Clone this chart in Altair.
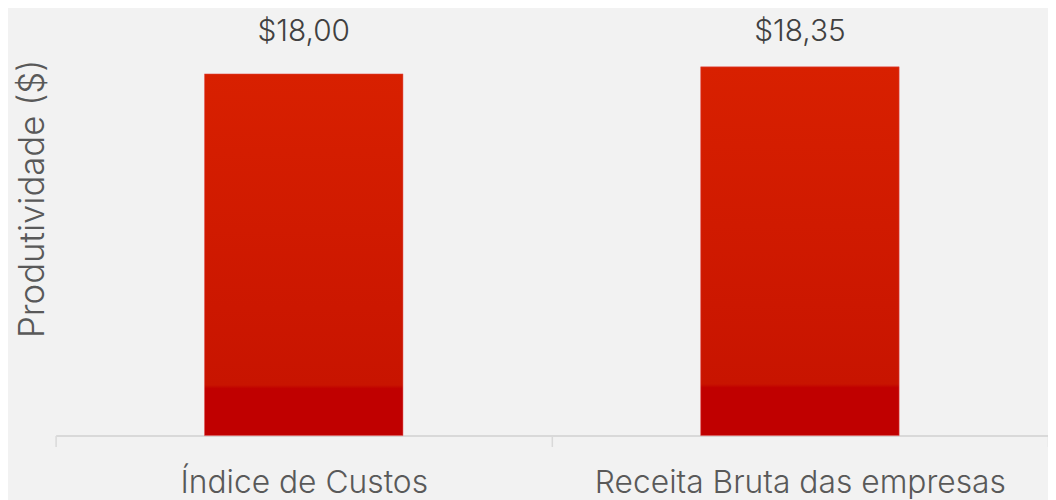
import altair as alt
import pandas as pd

categories = ["Índice de Custos", "Receita Bruta das empresas"]
values = [18.00, 18.35]
y_title = "Produtividade ($)"

df = pd.DataFrame({"cat": categories, "val": values})
df["label"] = ["$" + f"{v:.2f}".replace(".", ",") for v in values]
df["label_pos"] = max(values)

FONT = "Inter"
grad = alt.Gradient(
    gradient="linear", x1=0, y1=0, x2=0, y2=1,
    stops=[
        alt.GradientStop(color="#d82000", offset=0),
        alt.GradientStop(color="#c81400", offset=0.86),
        alt.GradientStop(color="#c00000", offset=0.87),
        alt.GradientStop(color="#c00000", offset=1),
    ],
)

x = alt.X(
    "cat:N", sort=categories,
    scale=alt.Scale(paddingInner=0, paddingOuter=0),
    axis=alt.Axis(
        title=None, labelAngle=0, tickBand="extent", tickSize=11, labelLimit=0,
        tickColor="#d9d9d9", tickWidth=1.5, domainColor="#d9d9d9", domainWidth=2,
        labelFont=FONT, labelFontSize=32, labelFontWeight=300, labelColor="#595959",
        labelPadding=21,
    ),
)
yscale = alt.Scale(domain=[0, 20], nice=False, zero=True)

bars = alt.Chart(df).mark_bar(
    width=alt.RelativeBandSize(0.4), color=grad,
    stroke="#e35050", strokeWidth=1, strokeOpacity=0.5,
).encode(
    x=x,
    y=alt.Y("val:Q", scale=yscale, axis=alt.Axis(
        title=y_title, domain=False, labels=False, ticks=False, grid=False,
        titleFont=FONT, titleFontSize=35, titleColor="#595959", titleFontWeight=300,
        titleX=-23, titleY=166, titleAngle=270, titleAlign="center", titleBaseline="middle",
    )),
)

texts = alt.Chart(df).mark_text(
    font=FONT, fontSize=30, fontWeight=300, color="#404040", dy=-26, baseline="alphabetic",
).encode(
    x=alt.X("cat:N", sort=categories),
    y=alt.Y("label_pos:Q", scale=yscale),
    text="label:N",
)

chart = alt.layer(bars, texts).properties(
    width=1000, height=405,
    padding={"left": 48, "top": 24, "right": 0, "bottom": 63},
    autosize="none",
).configure(background="#f2f2f2").configure_view(stroke=None)

chart.save("out.html", embed_options={"renderer": "svg", "actions": False})
